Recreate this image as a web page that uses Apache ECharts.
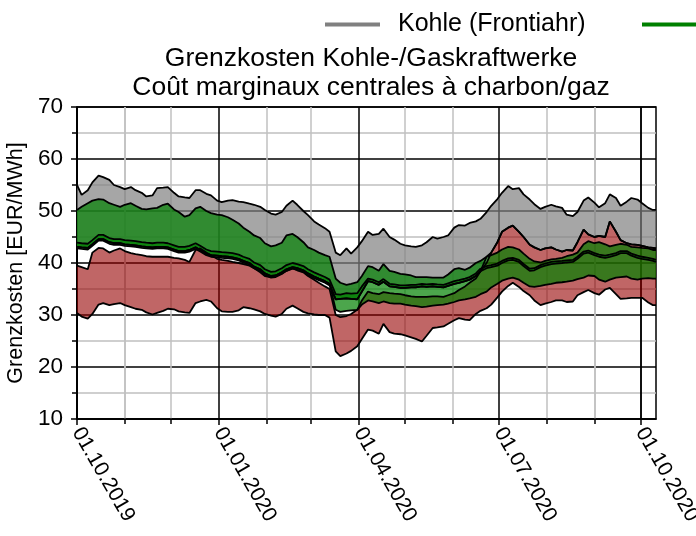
<!DOCTYPE html>
<html>
<head>
<meta charset="utf-8">
<script src="https://cdn.jsdelivr.net/npm/echarts@6/dist/echarts.min.js"></script>
<style>html,body{margin:0;padding:0;background:#fff}#c{width:696px;height:536px}</style>
</head>
<body>
<div id="c"></div>
<script>
const dates = ['2019-10-01','2019-10-04','2019-10-08','2019-10-11','2019-10-15','2019-10-18','2019-10-22','2019-10-25','2019-10-29','2019-11-01','2019-11-05','2019-11-08','2019-11-12','2019-11-15','2019-11-19','2019-11-22','2019-11-26','2019-11-29','2019-12-03','2019-12-06','2019-12-10','2019-12-13','2019-12-17','2019-12-20','2019-12-24','2019-12-27','2019-12-31','2020-01-03','2020-01-07','2020-01-10','2020-01-14','2020-01-17','2020-01-21','2020-01-24','2020-01-28','2020-01-31','2020-02-04','2020-02-07','2020-02-11','2020-02-14','2020-02-18','2020-02-21','2020-02-25','2020-02-28','2020-03-03','2020-03-06','2020-03-10','2020-03-13','2020-03-17','2020-03-20','2020-03-24','2020-03-27','2020-03-31','2020-04-03','2020-04-07','2020-04-10','2020-04-14','2020-04-17','2020-04-21','2020-04-24','2020-04-28','2020-05-01','2020-05-05','2020-05-08','2020-05-12','2020-05-15','2020-05-19','2020-05-22','2020-05-26','2020-05-29','2020-06-02','2020-06-05','2020-06-09','2020-06-12','2020-06-16','2020-06-19','2020-06-23','2020-06-26','2020-06-30','2020-07-03','2020-07-07','2020-07-10','2020-07-14','2020-07-17','2020-07-21','2020-07-24','2020-07-28','2020-07-31','2020-08-04','2020-08-07','2020-08-11','2020-08-14','2020-08-18','2020-08-21','2020-08-25','2020-08-28','2020-09-01','2020-09-04','2020-09-08','2020-09-11','2020-09-15','2020-09-18','2020-09-22','2020-09-25','2020-09-29','2020-10-02','2020-10-06','2020-10-09','2020-10-11'];

// grey band (Kohle Frontjahr)
const kohleUpper = [55,53.1,54,55.5,56.8,56.5,56,55,54.6,54.2,54.6,54,53.5,52.8,53,54.4,54.5,54.6,53.5,52.8,52.6,52.5,54,54,53.3,53,52,51.7,52,52.1,51.8,51.7,51.4,51.2,50.8,50.2,49.5,49.3,49.8,51,52,51.2,50,49.2,48,47.4,46.7,46,42,41.5,42.8,41.8,43,44.2,46,45.4,45.6,46.6,45,44.5,43.7,43.4,43.2,43.1,43.4,44,45,44.7,45,45.3,46.8,47.3,47.2,47.7,48,48.5,49.8,51,52.3,53.5,54.8,54.2,54.4,53.2,52.2,51.3,50.4,50.8,51.2,50.9,50.6,49.3,49,49.8,52,52.6,51.6,50.7,51.5,53.2,52.5,51,51.8,52.5,52.2,51.5,50.6,50.2,50.2];
const kohleLower = [43.1,43,42.9,43.6,44.6,44.6,44,43.8,43.8,43.6,43.5,43.4,43.2,43.1,43,43.1,43.1,43,42.6,42.3,42.3,42.5,43,42.5,41.8,41.5,41.4,41.3,41.2,41.1,40.8,40.4,40,39.3,38.8,38,37.5,37.6,38.2,38.8,39.2,39,38.6,38,37.4,37,36.5,36,33,33.1,33.2,33.1,33,34.5,36.5,36.3,35.8,36.4,35.5,35.4,35.2,35.2,35.3,35.3,35.5,35.4,35.5,35.4,35.3,35.6,36,36.2,36.5,36.8,37.5,38.4,41.2,42,44,46,46.8,47.2,46,45,43.5,43,42.5,42.8,43,42.6,42.2,42.5,42.4,44,46.4,45.5,45,45.2,45,48,46,44.4,43.8,43.6,43.5,43.3,43,42.9,42.8];

// green band (Gas Frontjahr)
const gasUpper = [50.2,50.8,51.5,52,52.3,52.2,51.5,51.2,50.8,51.2,51.5,51,50.4,50.3,50.5,50.6,51.2,51.4,50.3,49.8,48.9,49.2,50.5,50.8,50,49.6,49.3,49.2,48.8,48.3,47.6,46.8,46,45.3,44.8,43.8,43.2,43.4,43.9,45.3,45.6,45,44,43,42.5,42,41.5,41.2,37,36.2,35.8,36,36.3,37.5,39.4,39.2,38.5,39.8,38.5,38.3,37.9,37.8,37.6,37.3,37.3,37.3,37.2,37.2,37.2,37.8,38.8,39,38.7,39.1,40,40.4,41.2,41.5,42,42.6,43.1,43,42.6,41.8,40.8,40.3,40.1,40.4,40.7,40.8,41,41.3,41.6,42,43.6,44.2,43.8,44,43.6,43.2,43.5,43.7,43.5,43.1,43,42.9,42.8,42.5,42.5];
const gasLower = [43.1,43,42.9,43.6,44.6,44.6,44,43.8,43.8,43.6,43.5,43.4,43.2,43.1,43,43.1,43.1,43,42.6,42.3,42.3,42.5,43,42.5,41.8,41.5,41.4,41.3,41.2,41.1,40.8,40.4,40,39.3,38.8,38,37.5,37.6,38.2,38.8,39.2,39,38.6,38,37.4,37,36.5,36,31,30.6,30.8,30.9,31,32,32.8,32.6,32.3,32.6,32.3,32.2,32.2,32,31.8,31.7,31.5,31.6,31.8,31.9,32,32.2,32.5,32.8,33,33.2,33.5,34,34.5,35.3,36,36.6,37,37.2,36.8,36.2,35.5,35.4,35.6,35.8,36,36.2,36.3,36.4,36.6,36.9,37.2,37.6,37.5,36.8,36.4,36.8,37.2,37.3,37.4,37,36.8,37,37.1,37,37];

// second, narrow green band
const gas2Upper = [43.9,43.8,43.7,44.4,45.4,45.4,44.8,44.6,44.6,44.4,44.3,44.2,44,43.9,43.8,43.9,43.9,43.8,43.4,43.1,43.1,43.3,43.8,43.3,42.6,42.3,42.2,42.1,42,41.9,41.6,41.2,40.8,40.1,39.6,38.8,38.3,38.4,39,39.6,40,39.8,39.4,38.8,38.2,37.8,37.3,36.8,34,33.9,34.2,34.1,34.2,35.5,37,36.8,36.3,36.9,36,35.9,35.7,35.7,35.8,35.8,36,35.9,36,35.9,35.8,36.1,36.5,36.7,37,37.3,38,38.9,39.4,39.6,39.9,40.4,40.9,41,40.6,39.8,38.9,39,39.6,39.9,40.2,40.3,40.4,40.5,40.6,41.2,42.2,42.4,41.9,41.6,41.4,41.6,41.9,42.3,42.3,41.8,41.4,41.2,41,40.8,40.6];
const gas2Lower = [42.8,42.7,42.6,43.3,44.3,44.3,43.7,43.5,43.5,43.3,43.2,43.1,42.9,42.8,42.7,42.8,42.8,42.7,42.3,42,42,42.2,42.7,42.2,41.5,41.2,41.1,41,40.9,40.8,40.5,40.1,39.7,39,38.5,37.7,37.2,37.3,37.9,38.5,38.9,38.7,38.3,37.7,37.1,36.7,36.2,35.7,33,33.1,33.2,33.1,33,34.5,36.5,36.3,35.8,36.4,35.5,35.4,35.2,35.2,35.3,35.3,35.5,35.4,35.5,35.4,35.3,35.6,36,36.2,36.5,36.8,37.5,38.4,39,39.2,39.5,40,40.5,40.6,40.2,39.4,38.5,38.6,39.2,39.5,39.8,39.9,40,40.1,40.2,40.8,41.8,42,41.5,41.2,41,41.2,41.5,41.9,41.9,41.4,41,40.8,40.6,40.4,40.2];

// red band
const redUpper = [39.5,39.2,38.8,42,42.9,42.8,42,42.4,42.8,42.3,41.9,41.7,41.5,41.3,41.2,41.2,41.2,41.2,41,40.9,40.6,40.2,42.5,42.8,42,41.5,40.8,40.6,40.4,40.2,40,39.8,39.5,39,38.2,37.5,37.3,37.6,38,38.5,39,38.6,38.2,37.5,36.8,36.2,35.5,35,30,29.6,29.8,30.2,31,32.8,34.5,34.2,34,34.4,34.2,34.1,34,33.8,33.6,33.5,33.5,33.5,33.6,33.6,33.5,33.8,34.2,34.8,35.5,36.2,37,38.4,40,42,44,46,46.8,47.2,46,45,43.5,43,42.5,42.8,43,42.6,42.2,42.5,42.4,44,46.4,45.5,45,45.2,45,48,46,44.4,43.8,43.6,43.5,43.3,43,42.9,42.8];
const redLower = [30.4,29.7,29.3,30.2,32,32.3,31.9,32.1,32.3,31.9,31.5,31.2,31,30.5,30.1,30.4,30.8,31.2,31.1,30.7,30.5,30.4,32.3,32.6,32.9,32.6,31.3,30.7,30.6,30.6,30.9,31.5,31.3,31.1,30.7,30.2,29.9,29.7,30.2,31.2,31.8,31.3,30.6,30.3,30.1,30,30,29.5,23,22.1,22.6,23.1,24,25.4,27.2,27,26.4,28.3,26.7,26.4,26.3,26.1,25.7,25.4,24.9,26,27.5,27.6,27.8,28.3,29,29.4,29.1,29,30.2,30.8,31.3,32,33.4,34.5,35.6,36.2,35.4,34.6,33.8,32.8,31.9,32.2,32.5,32.8,32.8,32.5,32.6,33.8,34.4,34.8,34.2,33.9,34.9,35.2,34,33.1,33.2,33.3,33.3,33.3,32.4,31.9,31.9];

const majorTicks = ['2019-10-01','2020-01-01','2020-04-01','2020-07-01','2020-10-01'];
const minorTicks = ['2019-11-01','2019-12-01','2020-02-01','2020-03-01','2020-05-01','2020-06-01','2020-08-01','2020-09-01'];
const axisStart = '2019-10-01', axisEnd = '2020-10-11';
const legendNames = ['Kohle (Frontiahr)','Gas (Frontjahr)'];

function toTs(s){const p=s.split('-').map(Number);return new Date(p[0],p[1]-1,p[2]).getTime();}
const ts = dates.map(toTs);
const pairs = arr => arr.map((v,i)=>[ts[i],v]);
const diffPairs = (up,lo) => up.map((v,i)=>[ts[i], v-lo[i]]);

function band(id, lower, upper, color){
  return [
    {type:'line', name:id+'_base', xAxisIndex:1, stack:id, data:pairs(lower), symbol:'none', lineStyle:{width:0,opacity:0}, silent:true},
    {type:'line', name:id+'_fill', xAxisIndex:1, stack:id, data:diffPairs(upper,lower), symbol:'none', lineStyle:{width:0,opacity:0}, areaStyle:{color:color, opacity:1}, silent:true}
  ];
}
function edge(name, arr){
  return {type:'line', name:name, xAxisIndex:1, data:pairs(arr), symbol:'none', lineStyle:{color:'#000', width:1.8}, silent:true, z:5};
}

const font = 'Liberation Sans, Arial, sans-serif';
const series = [].concat(
  band('kohle', kohleLower, kohleUpper, 'rgba(128,128,128,0.7)'),
  band('red', redLower, redUpper, 'rgba(150,0,0,0.6)'),
  band('gas', gasLower, gasUpper, 'rgba(0,128,0,0.7)'),
  band('gas2', gas2Lower, gas2Upper, 'rgba(0,128,0,0.7)'),
  [edge('e1',kohleUpper), edge('e2',kohleLower), edge('e3',gasUpper), edge('e4',gasLower),
   edge('e5',gas2Upper), edge('e6',gas2Lower), edge('e7',redUpper), edge('e8',redLower),
   {type:'line', name:legendNames[0], xAxisIndex:1, data:[], symbol:'none', lineStyle:{color:'#808080', width:4}, itemStyle:{color:'#808080'}},
   {type:'line', name:legendNames[1], xAxisIndex:1, data:[], symbol:'none', lineStyle:{color:'#008000', width:4}, itemStyle:{color:'#008000'}}]
);

const legendBase = {top:7, itemWidth:55, itemHeight:4, icon:'rect', orient:'horizontal',
  textStyle:{fontFamily:font, fontSize:25, color:'#000', padding:[0,0,0,13]}};

const chart = echarts.init(document.getElementById('c'), null, {renderer:'canvas'});
chart.setOption({
  animation:false,
  backgroundColor:'#fff',
  textStyle:{fontFamily:font},
  title:{
    text:'Grenzkosten Kohle-/Gaskraftwerke\nCoût marginaux centrales à charbon/gaz',
    left:366, top:39, textAlign:'center',
    textStyle:{fontFamily:font, fontSize:26.5, fontWeight:'normal', color:'#000', lineHeight:29}
  },
  legend:[
    Object.assign({}, legendBase, {data:[legendNames[0]], left:320}),
    Object.assign({}, legendBase, {data:[legendNames[1]], left:637})
  ],
  grid:{left:77, right:40, top:107, bottom:117, show:true, borderColor:'#000', borderWidth:1.5, backgroundColor:'transparent', outerBoundsMode:'none', containLabel:false},
  xAxis:[
    {type:'time', min:toTs(axisStart), max:toTs(axisEnd), position:'bottom',
     axisLine:{show:false},
     axisTick:{show:true, length:5, lineStyle:{color:'#000', width:1.5}, customValues:minorTicks.map(toTs)},
     axisLabel:{show:false, customValues:minorTicks.map(toTs)},
     splitLine:{show:true, lineStyle:{color:'#c0c0c0', width:1.5}}},
    {type:'time', min:toTs(axisStart), max:toTs(axisEnd), position:'bottom',
     axisLine:{show:true, lineStyle:{color:'#000', width:1.5}},
     axisTick:{show:true, length:6, lineStyle:{color:'#000', width:1.5}, customValues:majorTicks.map(toTs)},
     axisLabel:{show:true, rotate:-60, margin:10, fontFamily:font, fontSize:21, color:'#000',
       customValues:majorTicks.map(toTs), formatter:'{dd}.{MM}.{yyyy}', hideOverlap:false},
     splitLine:{show:true, lineStyle:{color:'#000', width:1.5}}}
  ],
  yAxis:{
    type:'value', min:10, max:70, interval:10,
    name:'Grenzkosten [EUR/MWh]', nameLocation:'middle', nameGap:50,
    nameTextStyle:{fontFamily:font, fontSize:21.5, color:'#000'},
    axisLine:{show:true, lineStyle:{color:'#000', width:1.5}},
    axisTick:{show:true, length:6, lineStyle:{color:'#000', width:1.5}},
    minorTick:{show:true, splitNumber:2, length:5, lineStyle:{color:'#000', width:1.5}},
    minorSplitLine:{show:true, lineStyle:{color:'#c0c0c0', width:1.5}},
    axisLabel:{fontFamily:font, fontSize:22.5, color:'#000', margin:14},
    splitLine:{show:true, lineStyle:{color:'#000', width:1.5}}
  },
  series:series
});
</script>
</body>
</html>
